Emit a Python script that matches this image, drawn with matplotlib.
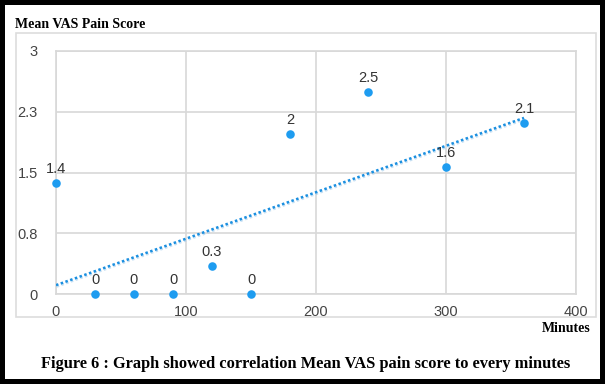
import numpy as np
import matplotlib.pyplot as plt
import matplotlib.patheffects as pe
from matplotlib.patches import Rectangle

# Data
minutes = [0, 30, 60, 90, 120, 150, 180, 240, 300, 360]
vas_score = [1.37, 0, 0, 0, 0.35, 0, 1.97, 2.5, 1.57, 2.11]
point_labels = ["1.4", "0", "0", "0", "0.3", "0", "2", "2.5", "1.6", "2.1"]

y_ticks = [0, 0.75, 1.5, 2.25, 3]
y_tick_labels = ["0", "0.8", "1.5", "2.3", "3"]
x_ticks = [0, 100, 200, 300, 400]

blue = "#1e9cf0"
grid_col = "#d8d8d8"
serif = "Liberation Serif"
plt.rcParams["font.family"] = "Liberation Sans"

fig = plt.figure(figsize=(6.05, 3.84), dpi=100)
fig.patch.set_facecolor("white")

# outer black frame and light grey chart box
fig.patches.append(Rectangle((0, 0), 1, 1, transform=fig.transFigure,
                             fill=False, ec="black", lw=7.2))
fig.patches.append(Rectangle((16 / 605, 1 - 317 / 384), 580 / 605, 284 / 384,
                             transform=fig.transFigure, fill=False,
                             ec="#dddddd", lw=1.2))

ax = fig.add_axes([56 / 605, 1 - 294 / 384, 520 / 605, 243 / 384])

# linear trend line from the data
slope, intercept = np.polyfit(minutes, vas_score, 1)
tx = np.array([minutes[0], minutes[-1]])
ax.plot(tx, slope * tx + intercept, linestyle=(0, (1, 1)), color="#1a8fe0",
        lw=1.8, zorder=3,
        path_effects=[pe.SimpleLineShadow(offset=(0.5, -1.0), shadow_color="#9fcbec",
                                          alpha=0.6),
                      pe.Normal()])

ax.scatter(minutes, vas_score, s=38, color=blue, zorder=4, clip_on=False,
           linewidths=0)
for x, y, lab in zip(minutes, vas_score, point_labels):
    ax.annotate(lab, (x, y), xytext=(0, 5), textcoords="offset points",
                ha="center", va="bottom", fontsize=10.5, color="#333333")

ax.set_xlim(0, 400)
ax.set_ylim(0, 3)
ax.set_xticks(x_ticks)
ax.set_yticks(y_ticks)
ax.set_yticklabels(y_tick_labels)
ax.tick_params(length=0, labelsize=10.5, labelcolor="#444444")
ax.tick_params(axis="y", pad=13)
ax.tick_params(axis="x", pad=8)
ax.grid(True, color=grid_col, lw=1.2)
for s in ax.spines.values():
    s.set_color(grid_col)
    s.set_linewidth(1.2)

fig.text(15 / 605, 1 - 24 / 384, "Mean VAS Pain Score", fontsize=10,
         fontweight="bold", family=serif, va="center", ha="left")
fig.text(591 / 605, 1 - 328 / 384, "Minutes", fontsize=10,
         fontweight="bold", family=serif, va="center", ha="right")
fig.text(306 / 605, 1 - 364 / 384,
         "Figure 6 : Graph showed correlation Mean VAS pain score to every minutes",
         fontsize=11.8, fontweight="bold", family=serif, va="center", ha="center")

plt.savefig("out.png", dpi=100)
